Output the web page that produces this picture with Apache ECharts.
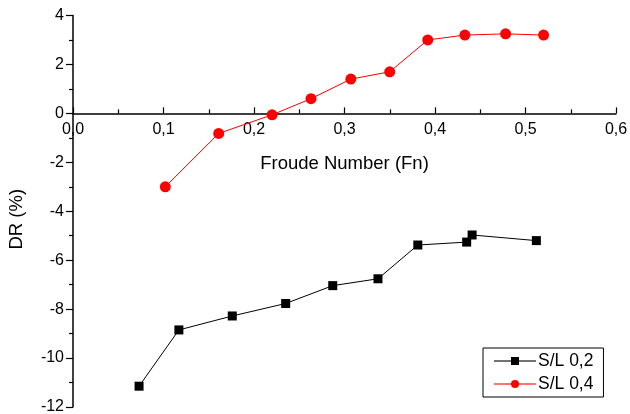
<!DOCTYPE html>
<html>
<head>
<meta charset="utf-8">
<script src="https://cdn.jsdelivr.net/npm/echarts@6/dist/echarts.min.js"></script>
<style>html,body{margin:0;padding:0;background:#fff;}#c{width:630px;height:414px;}</style>
</head>
<body>
<div id="c"></div>
<script>
var froude02 = [0.073, 0.117, 0.176, 0.235, 0.287, 0.337, 0.381, 0.435, 0.441, 0.512];
var dr02 = [-11.15, -8.85, -8.28, -7.77, -7.04, -6.76, -5.38, -5.26, -4.97, -5.2];
var froude04 = [0.102, 0.161, 0.220, 0.263, 0.307, 0.350, 0.392, 0.433, 0.478, 0.520];
var dr04 = [-3.0, -0.82, -0.06, 0.6, 1.4, 1.7, 3.0, 3.2, 3.25, 3.2];
var seriesNames = ['S/L 0,2', 'S/L 0,4'];
var xTicks = { min: 0, max: 0.6, interval: 0.1 };
var yTicks = { min: -12, max: 4, interval: 2 };

function pairs(xs, ys) { return xs.map(function (x, i) { return [x, ys[i]]; }); }
var font = 'Liberation Sans, Arial, sans-serif';
var gridTop = 15.5, gridBottom = 7, H = 414;
var plotH = H - gridTop - gridBottom;
// x axis sits on y = 0: distance from grid bottom to the zero line
var zeroOffset = plotH * (0 - yTicks.min) / (yTicks.max - yTicks.min);
var chart = echarts.init(document.getElementById('c'));
chart.setOption({
  animation: false,
  backgroundColor: '#fff',
  grid: { left: 73, right: 14, top: gridTop, bottom: gridBottom, containLabel: false, outerBoundsMode: 'none' },
  xAxis: {
    type: 'value', min: xTicks.min, max: xTicks.max, interval: xTicks.interval,
    position: 'bottom', offset: -zeroOffset,
    name: 'Froude Number (Fn)', nameLocation: 'middle', nameGap: 41,
    nameTextStyle: { fontFamily: font, fontSize: 18.5, color: '#000' },
    axisLine: { onZero: false, lineStyle: { color: '#000', width: 1.5 } },
    axisTick: { inside: true, length: 6, lineStyle: { color: '#000', width: 1.2 } },
    minorTick: { show: true, splitNumber: 2, length: 4, lineStyle: { color: '#000', width: 1.2 } },
    splitLine: { show: false },
    axisLabel: { fontFamily: font, fontSize: 16, color: '#000', margin: 8,
      formatter: function (v) { return v.toFixed(1).replace('.', ','); } }
  },
  yAxis: {
    type: 'value', min: yTicks.min, max: yTicks.max, interval: yTicks.interval,
    name: 'DR (%)', nameLocation: 'middle', nameGap: 47, nameRotate: 90,
    nameTextStyle: { fontFamily: font, fontSize: 18.5, color: '#000', padding: [0, 16, 0, 0] },
    axisLine: { show: true, onZero: false, lineStyle: { color: '#000', width: 1.5 } },
    axisTick: { inside: false, length: 7, lineStyle: { color: '#000', width: 1.2 } },
    minorTick: { show: true, splitNumber: 2, length: 4, lineStyle: { color: '#000', width: 1.2 } },
    splitLine: { show: false },
    axisLabel: { fontFamily: font, fontSize: 16, color: '#000', margin: 9,
      formatter: function (v) { return String(v); } }
  },
  legend: {
    orient: 'vertical', left: 483, top: 348, width: 110,
    padding: [4, 10, 4, 10], itemGap: 5, itemWidth: 42, itemHeight: 10,
    borderColor: '#000', borderWidth: 1, backgroundColor: '#fff',
    lineStyle: { opacity: 0.55, width: 2 },
    textStyle: { fontFamily: font, fontSize: 17.5, color: '#000', padding: [0, 0, 0, -3] },
    data: seriesNames
  },
  series: [
    {
      name: seriesNames[0], type: 'line', data: pairs(froude02, dr02),
      symbol: 'rect', symbolSize: 9, color: '#000',
      lineStyle: { color: '#000', width: 1 }, itemStyle: { color: '#000' }
    },
    {
      name: seriesNames[1], type: 'line', data: pairs(froude04, dr04),
      symbol: 'circle', symbolSize: 11, color: '#ff0000',
      lineStyle: { color: '#ff0000', width: 1 }, itemStyle: { color: '#ff0000' }
    }
  ]
});
</script>
</body>
</html>
